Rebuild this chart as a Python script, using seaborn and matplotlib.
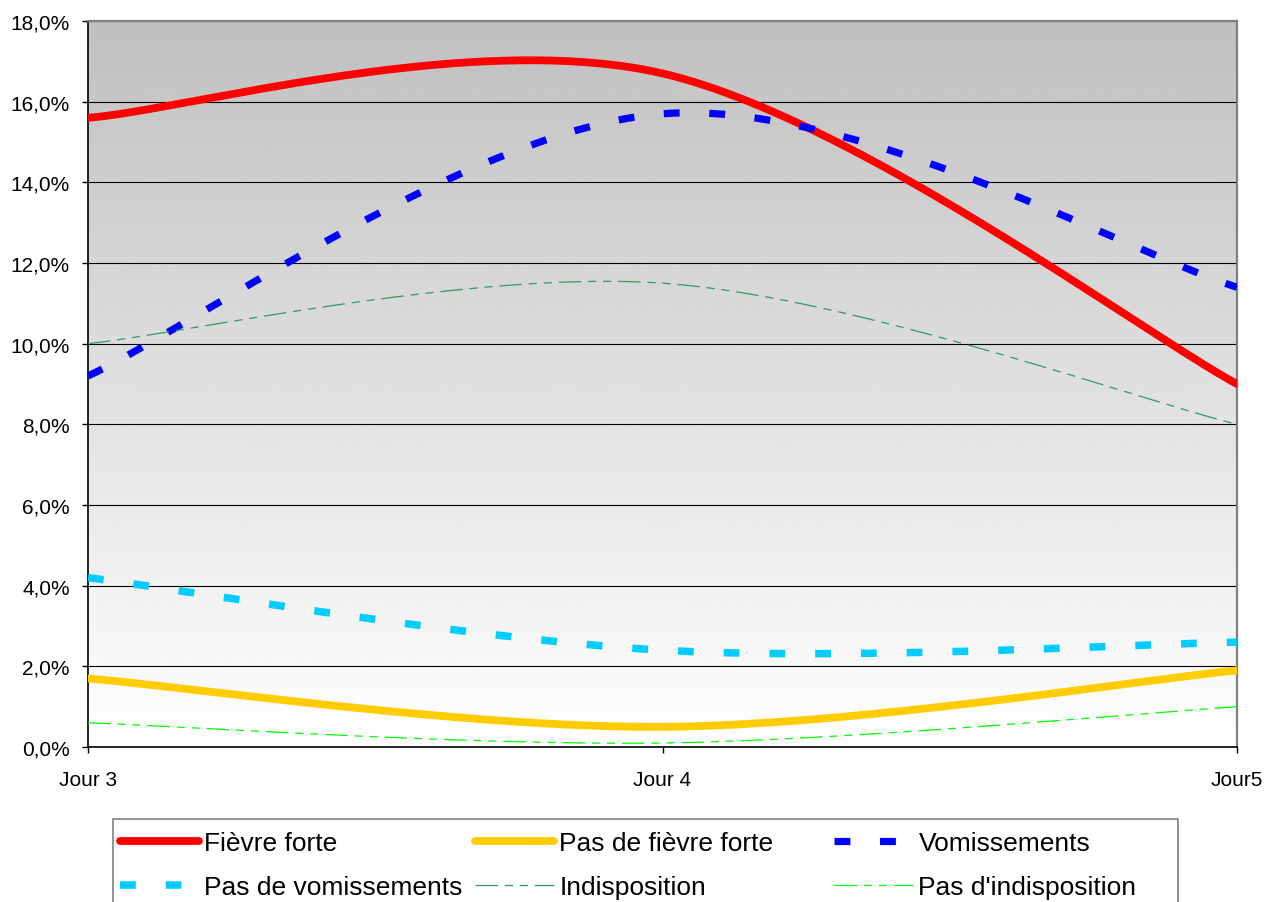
import numpy as np
import matplotlib
matplotlib.use('Agg')
import matplotlib.pyplot as plt
import seaborn as sns
from matplotlib.patches import Rectangle

# données (en %)
jours = ['Jour 3', 'Jour 4', 'Jour5']
fievre_forte = [15.6, 16.7, 9.0]
pas_fievre_forte = [1.7, 0.5, 1.9]
vomissements = [9.2, 15.7, 11.4]
pas_vomissements = [4.2, 2.4, 2.6]
indisposition = [10.0, 11.5, 8.0]
pas_indisposition = [0.6, 0.1, 1.0]


def smooth(ys, n=80):
    # courbe lissée façon Excel (Bezier, tangentes de Catmull-Rom)
    xs = np.arange(len(ys), dtype=float)
    pts = np.column_stack([xs, np.asarray(ys, dtype=float)])
    ext = np.vstack([pts[0], pts, pts[-1]])
    out = []
    t = np.linspace(0, 1, n)[:, None]
    for i in range(len(pts) - 1):
        p0, p3 = ext[i + 1], ext[i + 2]
        c1 = p0 + (ext[i + 2] - ext[i]) / 6
        c2 = p3 - (ext[i + 3] - ext[i + 1]) / 6
        seg = (1 - t) ** 3 * p0 + 3 * (1 - t) ** 2 * t * c1 + 3 * (1 - t) * t ** 2 * c2 + t ** 3 * p3
        out.append(seg if i == 0 else seg[1:])
    out = np.vstack(out)
    return out[:, 0], out[:, 1]


sns.set_theme(style='white')
plt.rcParams['font.family'] = ['Liberation Sans', 'DejaVu Sans']
plt.rcParams['text.color'] = 'black'
plt.rcParams['xtick.color'] = 'black'
plt.rcParams['ytick.color'] = 'black'

W, H = 1274, 903
fig = plt.figure(figsize=(W / 100, H / 100), dpi=100)
ax = fig.add_axes([88 / W, 1 - 748 / H, (1237 - 88) / W, (748 - 22) / H])

# fond en dégradé gris -> blanc
grad = np.linspace(192, 255, 256)[:, None]
ax.imshow(grad, cmap='gray', vmin=0, vmax=255, aspect='auto', extent=[0, 1, 0, 1],
          transform=ax.transAxes, zorder=0)

dash_dot = (0, (18, 5.5, 6.5, 5.5, 6.5, 5.5))
series = [
    ('Fièvre forte', fievre_forte, '#FF0000', 5.6, '-'),
    ('Pas de fièvre forte', pas_fievre_forte, '#FFCC00', 5.6, '-'),
    ('Vomissements', vomissements, '#0000FF', 5.2, (0, (2.2, 4.1))),
    ('Pas de vomissements', pas_vomissements, '#00CCFF', 5.4, (0, (2.1, 4.0))),
    ('Indisposition', indisposition, '#339966', 0.9, dash_dot),
    ("Pas d'indisposition", pas_indisposition, '#00FF00', 0.9, dash_dot),
]

for name, vals, col, lw, ls in series:
    x, y = smooth(vals)
    sns.lineplot(x=x, y=y, ax=ax, color=col, linewidth=lw, linestyle=ls,
                 label=name, legend=False, sort=False, estimator=None,
                 solid_capstyle='round', zorder=3)

ax.set_xlim(0, 2)
ax.set_ylim(0, 18)
ax.set_xticks([0, 1, 2])
ax.set_xticklabels(jours, fontsize=15)
yt = np.arange(0, 18.1, 2)
ax.set_yticks(yt)
ax.set_yticklabels([f'{v:.1f}%'.replace('.', ',') for v in yt], fontsize=15)
ax.set_xlabel('')
ax.set_ylabel('')
ax.grid(axis='y', color='black', linewidth=0.8)
for gl in ax.get_ygridlines():
    gl.set_zorder(1)

ax.tick_params(axis='both', direction='out', length=4.5, width=1, color='black',
               left=True, bottom=True)
ax.tick_params(axis='x', pad=12)
ax.tick_params(axis='y', pad=8.5)
for side in ['left', 'bottom']:
    ax.spines[side].set_color('black')
    ax.spines[side].set_linewidth(1.2)
for side in ['top', 'right']:
    ax.spines[side].set_color('#808080')
    ax.spines[side].set_linewidth(1.6)

# légende : trois colonnes de même largeur dans un cadre
handles, labels = ax.get_legend_handles_labels()
fig.add_artist(Rectangle((113 / W, -0.05), (1178 - 113) / W, 0.05 + (903 - 820) / H,
                         transform=fig.transFigure, facecolor='white',
                         edgecolor='#808080', linewidth=1.2, zorder=4))
col_x = [120, 475, 834]
for c in range(3):
    idx = [c, c + 3]
    lg = fig.legend([handles[i] for i in idx], [labels[i] for i in idx],
                    loc='center left', bbox_to_anchor=(col_x[c] / W, 1 - 866 / H),
                    bbox_transform=fig.transFigure, fontsize=19, frameon=False,
                    handlelength=3.0, handletextpad=0.2, labelspacing=0.75,
                    borderpad=0, borderaxespad=0)
    lg.set_zorder(5)

fig.savefig('out.png', dpi=100)
